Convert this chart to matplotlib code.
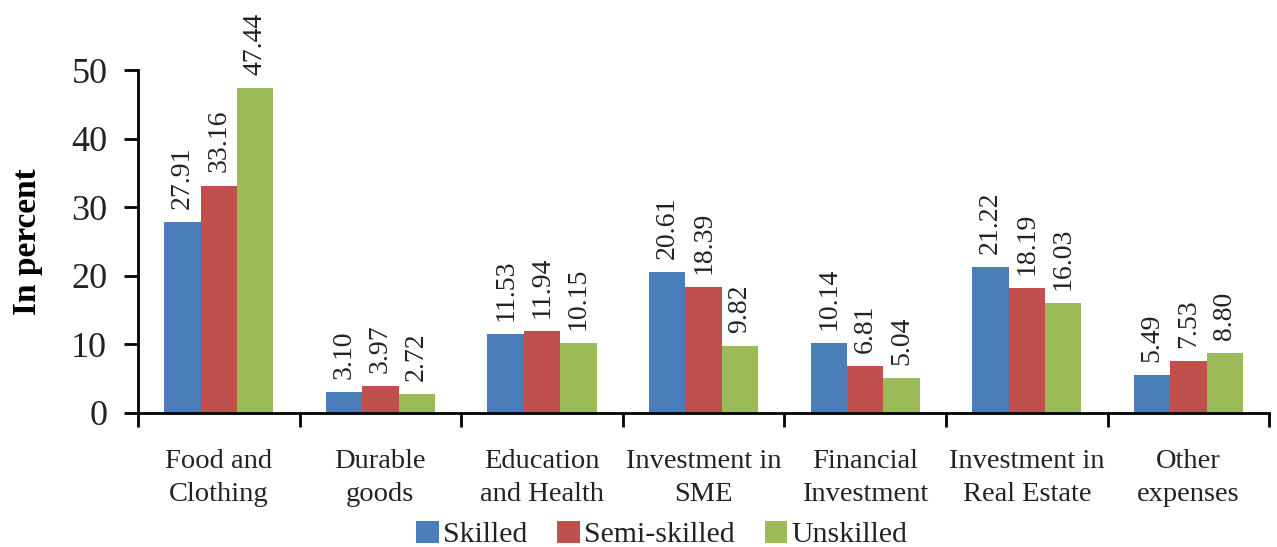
import matplotlib
matplotlib.use("Agg")
import matplotlib.pyplot as plt
import numpy as np

categories = ["Food and\nClothing", "Durable\ngoods", "Education\nand Health",
              "Investment in\nSME", "Financial\nInvestment", "Investment in\nReal Estate",
              "Other\nexpenses"]
series_names = ["Skilled", "Semi-skilled", "Unskilled"]
skilled = [27.91, 3.10, 11.53, 20.61, 10.14, 21.22, 5.49]
semi_skilled = [33.16, 3.97, 11.94, 18.39, 6.81, 18.19, 7.53]
unskilled = [47.44, 2.72, 10.15, 9.82, 5.04, 16.03, 8.80]
yticks = [0, 10, 20, 30, 40, 50]
colors = ["#4a7ebb", "#c0504d", "#9bbb59"]

plt.rcParams['font.family'] = ['Liberation Serif', 'DejaVu Serif']

fig = plt.figure(figsize=(12.77, 5.47), dpi=100)
ax = fig.add_axes([0.108, 0.245, 0.886, 0.627])

x = np.arange(len(categories))
w = 0.225
for i, (vals, name, c) in enumerate(zip([skilled, semi_skilled, unskilled], series_names, colors)):
    pos = x + (i - 1) * w
    ax.bar(pos, vals, width=w, color=c, label=name)
    for p, v in zip(pos, vals):
        ax.text(p, v + 1.9, f"{v:.2f}", rotation=90, ha='center', va='bottom',
                fontsize=20, color='#222222', clip_on=False)

ax.set_xlim(-0.5, len(categories) - 0.5)
ax.set_ylim(0, 50)
ax.set_yticks(yticks)
ax.set_yticklabels([str(t) for t in yticks], fontsize=26, color='#222222')
ax.set_xticks(x)
ax.set_xticklabels(categories, fontsize=20.5, color='#222222', linespacing=1.4)
ax.tick_params(axis='x', length=0, pad=26)
ax.set_xticks(np.arange(-0.5, len(categories)), minor=True)
ax.tick_params(axis='x', which='minor', length=10, width=2, direction='out')
ax.tick_params(axis='y', length=10, width=2, direction='out', pad=12)
for s in ['top', 'right']:
    ax.spines[s].set_visible(False)
ax.spines['left'].set_linewidth(2)
ax.spines['bottom'].set_linewidth(2)
ax.set_ylabel("In percent", fontsize=24, fontweight='bold', labelpad=20)

leg = ax.legend(loc='center', bbox_to_anchor=(0.463, -0.355), ncol=3, frameon=False,
                fontsize=21.5, handlelength=0.75, handleheight=0.75, handletextpad=0.15,
                columnspacing=1.0, borderaxespad=0)
for t in leg.get_texts():
    t.set_color('#222222')

fig.savefig("out.png", dpi=100)
